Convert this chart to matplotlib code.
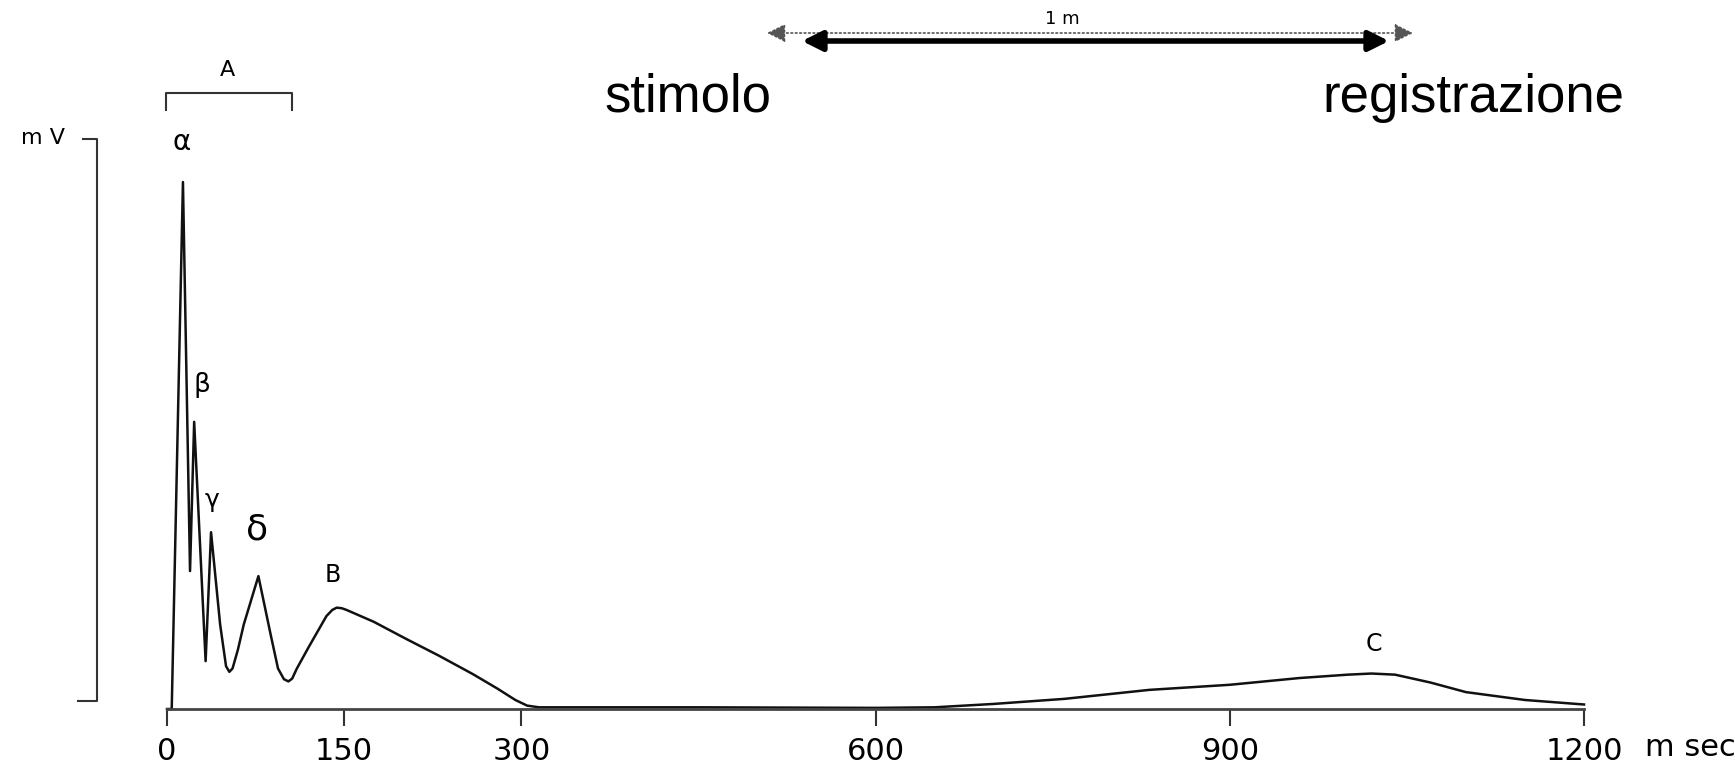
import matplotlib
matplotlib.use('Agg')
import matplotlib.pyplot as plt

W, H = 1735, 767

# compound action potential (time in ms, amplitude in arbitrary mV units)
time_ms = [0, 4, 13.5, 19.5, 23, 32.7, 37.3, 45, 50, 52.8, 55.5, 60, 65, 77.4, 88,
           94, 99, 102.8, 106, 110, 120, 135, 140, 143.7, 148, 152, 175, 203, 230,
           259, 280, 295, 305, 315, 450, 600, 650, 700, 760, 832, 900, 959, 1000,
           1020, 1040, 1070, 1100, 1150, 1200]
amplitude = [0, 0, 9.36, 2.45, 5.1, 0.85, 3.14, 1.5, 0.76, 0.66, 0.72, 1.05, 1.5, 2.36, 1.3,
             0.72, 0.53, 0.49, 0.54, 0.72, 1.1, 1.65, 1.76, 1.8, 1.79, 1.76, 1.55, 1.24, 0.95,
             0.62, 0.36, 0.16, 0.06, 0.03, 0.03, 0.02, 0.03, 0.09, 0.18, 0.34, 0.43, 0.55,
             0.61, 0.63, 0.61, 0.47, 0.3, 0.16, 0.08]

tick_pos = [0, 150, 300, 600, 900, 1200]
tick_labels = ['0', '150', '300', '600', '900', '1200']

wave_names = ['α', 'β', 'γ', 'δ', 'B', 'C']

# label placement (data coords) and sizes
wave_x = [12, 30, 38, 76, 140.5, 1022]
wave_y = [10.07, 5.75, 3.71, 3.18, 2.38, 1.16]
wave_size = [20, 19, 18, 26, 17, 17]

px_per_unit = 56.3


def fig_xy(px, py):
    return px / W, 1 - py / H


def main():
    fig = plt.figure(figsize=(W / 100, H / 100), dpi=100)
    ax = fig.add_axes([167 / W, (H - 709) / H, 1417 / W, 609 / H])
    ax.plot(time_ms, amplitude, color='#111111', lw=1.8, clip_on=False)
    ax.set_xlim(0, 1200)
    ax.set_ylim(0, 609 / px_per_unit)

    for s in ['left', 'top', 'right']:
        ax.spines[s].set_visible(False)
    ax.spines['bottom'].set_color('#444444')
    ax.spines['bottom'].set_linewidth(2)
    ax.set_yticks([])
    ax.set_xticks(tick_pos, tick_labels, fontsize=22)
    ax.tick_params(axis='x', direction='out', length=12, width=1.5,
                   color='#333333', pad=8)

    # mV scale bar
    ax.plot([-71, -59, -59, -75], [10.13, 10.13, 0.14, 0.14],
            color='#333333', lw=1.5, clip_on=False)
    fig.text(*fig_xy(43, 138), 'm V', ha='center', va='center', fontsize=16)

    # bracket A
    ax.plot([-1, -1, 106, 106], [10.64, 10.94, 10.94, 10.64],
            color='#333333', lw=1.5, clip_on=False)
    ax.text(51, 11.35, 'A', ha='center', va='center', fontsize=16)

    for name, x, y, sz in zip(wave_names, wave_x, wave_y, wave_size):
        ax.text(x, y, name, ha='center', va='center', fontsize=sz)

    fig.text(*fig_xy(1645, 748), 'm sec', ha='left', va='center', fontsize=22)

    # top: stimulus / recording, 1 m apart
    fig.text(*fig_xy(688, 112), 'stimolo', ha='center', va='baseline',
             fontsize=38, family='Liberation Sans')
    fig.text(*fig_xy(1473, 112), 'registrazione', ha='center', va='baseline',
             fontsize=38, family='Liberation Sans')

    ax.annotate('', xy=(1413, H - 33), xytext=(767, H - 33), xycoords='figure pixels',
                arrowprops=dict(arrowstyle='<|-|>', lw=1.2, ls=':', color='#555555',
                                mutation_scale=28, shrinkA=0, shrinkB=0))
    ax.annotate('', xy=(1389, H - 41), xytext=(802, H - 41), xycoords='figure pixels',
                arrowprops=dict(arrowstyle='<|-|>', lw=4, color='black',
                                mutation_scale=30, shrinkA=0, shrinkB=0))
    fig.text(*fig_xy(1062, 19), '1 m', ha='center', va='center', fontsize=13)

    fig.savefig('out.png', dpi=100)
    plt.close('all')


if __name__ == '__main__':
    main()
